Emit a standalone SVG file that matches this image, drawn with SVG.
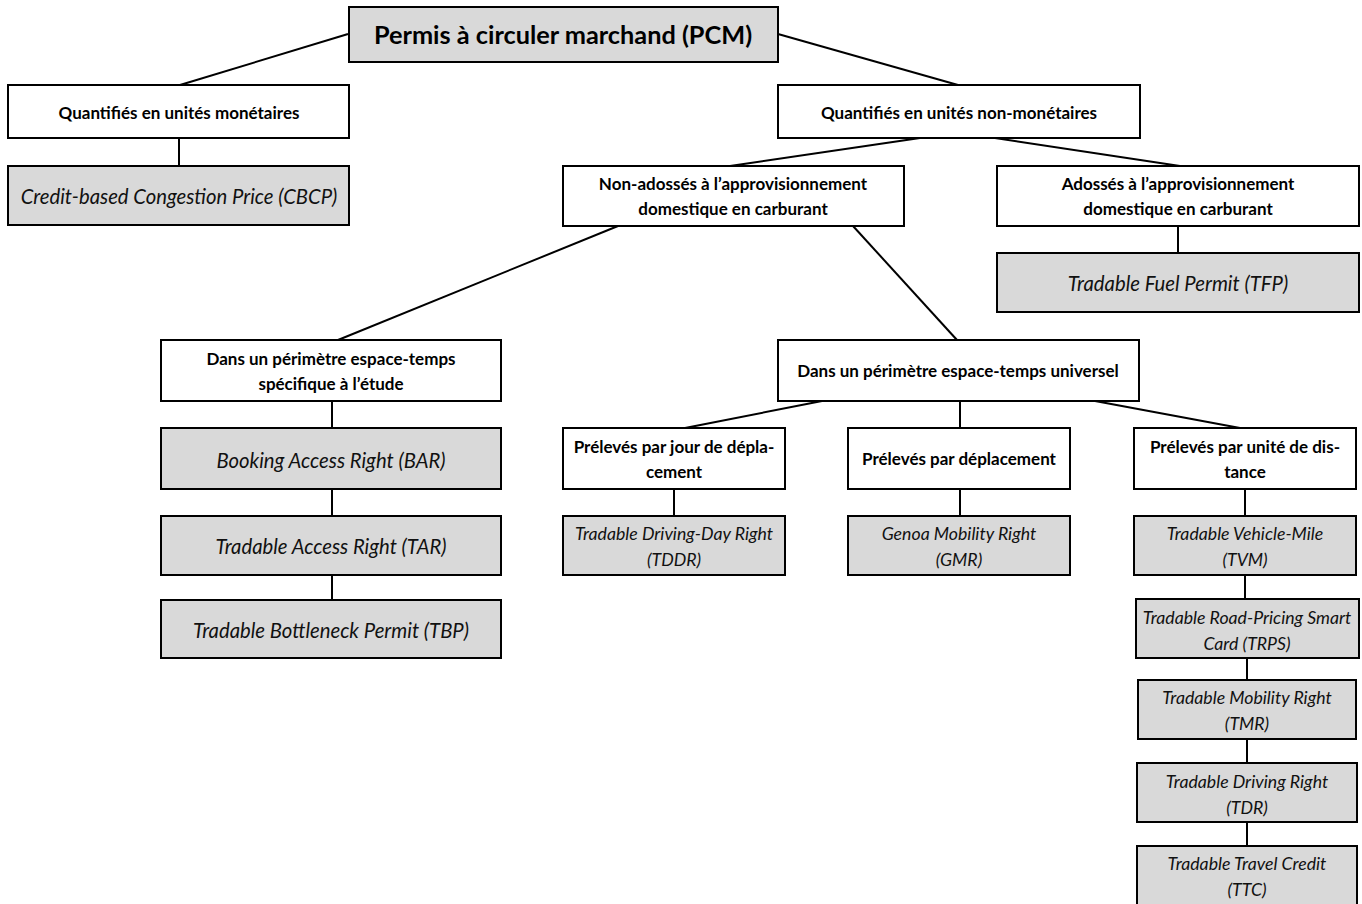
<svg xmlns="http://www.w3.org/2000/svg" width="1362" height="904" viewBox="0 0 1362 904">
<style>
.w{fill:#ffffff;stroke:#000;stroke-width:2}
.g{fill:#d9d9d9;stroke:#000;stroke-width:2}
.b{font-family:Lato,"Liberation Sans",sans-serif;font-weight:bold;font-size:17px;fill:#000;text-anchor:middle}
.i{font-family:Lato,"Liberation Sans",sans-serif;font-style:italic;font-size:17.7px;fill:#111;text-anchor:middle}
.il{font-family:Lato,"Liberation Sans",sans-serif;font-style:italic;font-size:20.3px;fill:#111;text-anchor:middle}
.c line{stroke:#000;stroke-width:2}
</style>
<rect width="1362" height="904" fill="#fff"/>
<g class="c" id="connectors">
<line x1="348" y1="34" x2="180" y2="85"/>
<line x1="778" y1="34" x2="958" y2="85"/>
<line x1="179" y1="138" x2="179" y2="166"/>
<line x1="920" y1="138" x2="730" y2="166"/>
<line x1="995" y1="138" x2="1180" y2="166"/>
<line x1="1178" y1="226" x2="1178" y2="253"/>
<line x1="618" y1="226" x2="338" y2="340"/>
<line x1="853" y1="226" x2="957" y2="340"/>
<line x1="332" y1="401" x2="332" y2="428"/>
<line x1="332" y1="489" x2="332" y2="516"/>
<line x1="332" y1="575" x2="332" y2="600"/>
<line x1="822" y1="401" x2="685" y2="428"/>
<line x1="960" y1="401" x2="960" y2="428"/>
<line x1="1095" y1="401" x2="1240" y2="428"/>
<line x1="674" y1="489" x2="674" y2="516"/>
<line x1="960" y1="489" x2="960" y2="516"/>
<line x1="1245" y1="489" x2="1245" y2="516"/>
<line x1="1245" y1="575" x2="1245" y2="599"/>
<line x1="1247" y1="658" x2="1247" y2="680"/>
<line x1="1247" y1="739" x2="1247" y2="763"/>
<line x1="1247" y1="822" x2="1247" y2="846"/>
</g>
<g id="pcm"><rect class="g" x="349" y="7" width="429" height="55"/><text x="563" y="44" class="b" style="font-size:25.3px">Permis à circuler marchand (PCM)</text></g>
<g id="qm"><rect class="w" x="8" y="85" width="341" height="53"/><text x="179" y="119" class="b">Quantifiés en unités monétaires</text></g>
<g id="cbcp"><rect class="g" x="8" y="166" width="341" height="59"/><text x="179" y="204" class="il">Credit-based Congestion Price (CBCP)</text></g>
<g id="qnm"><rect class="w" x="778" y="85" width="362" height="53"/><text x="959" y="119" class="b">Quantifiés en unités non-monétaires</text></g>
<g id="nonadosses"><rect class="w" x="563" y="166" width="341" height="60"/><text x="733" y="190" class="b">Non-adossés à l’approvisionnement</text><text x="733" y="215" class="b">domestique en carburant</text></g>
<g id="adosses"><rect class="w" x="997" y="166" width="362" height="60"/><text x="1178" y="190" class="b">Adossés à l’approvisionnement</text><text x="1178" y="215" class="b">domestique en carburant</text></g>
<g id="tfp"><rect class="g" x="997" y="253" width="362" height="59"/><text x="1178" y="291" class="il">Tradable Fuel Permit (TFP)</text></g>
<g id="specifique"><rect class="w" x="161" y="340" width="340" height="61"/><text x="331" y="365" class="b">Dans un périmètre espace-temps</text><text x="331" y="390" class="b">spécifique à l’étude</text></g>
<g id="universel"><rect class="w" x="778" y="340" width="361" height="61"/><text x="958" y="377" class="b">Dans un périmètre espace-temps universel</text></g>
<g id="bar"><rect class="g" x="161" y="428" width="340" height="61"/><text x="331" y="468" class="il">Booking Access Right (BAR)</text></g>
<g id="tar"><rect class="g" x="161" y="516" width="340" height="59"/><text x="331" y="554" class="il">Tradable Access Right (TAR)</text></g>
<g id="tbp"><rect class="g" x="161" y="600" width="340" height="58"/><text x="331" y="638" class="il">Tradable Bottleneck Permit (TBP)</text></g>
<g id="jour"><rect class="w" x="563" y="428" width="222" height="61"/><text x="674" y="453" class="b">Prélevés par jour de dépla-</text><text x="674" y="478" class="b">cement</text></g>
<g id="tddr"><rect class="g" x="563" y="516" width="222" height="59"/><text x="674" y="540" class="i">Tradable Driving-Day Right</text><text x="674" y="566" class="i">(TDDR)</text></g>
<g id="deplacement"><rect class="w" x="848" y="428" width="222" height="61"/><text x="959" y="465" class="b">Prélevés par déplacement</text></g>
<g id="gmr"><rect class="g" x="848" y="516" width="222" height="59"/><text x="959" y="540" class="i">Genoa Mobility Right</text><text x="959" y="566" class="i">(GMR)</text></g>
<g id="unite"><rect class="w" x="1134" y="428" width="222" height="61"/><text x="1245" y="453" class="b">Prélevés par unité de dis-</text><text x="1245" y="478" class="b">tance</text></g>
<g id="tvm"><rect class="g" x="1134" y="516" width="222" height="59"/><text x="1245" y="540" class="i">Tradable Vehicle-Mile</text><text x="1245" y="566" class="i">(TVM)</text></g>
<g id="trps"><rect class="g" x="1136" y="599" width="223" height="59"/><text x="1247" y="624" class="i">Tradable Road-Pricing Smart</text><text x="1247" y="650" class="i">Card (TRPS)</text></g>
<g id="tmr"><rect class="g" x="1138" y="680" width="218" height="59"/><text x="1247" y="704" class="i">Tradable Mobility Right</text><text x="1247" y="730" class="i">(TMR)</text></g>
<g id="tdr"><rect class="g" x="1137" y="763" width="220" height="59"/><text x="1247" y="788" class="i">Tradable Driving Right</text><text x="1247" y="814" class="i">(TDR)</text></g>
<g id="ttc"><rect class="g" x="1137" y="846" width="220" height="60"/><text x="1247" y="870" class="i">Tradable Travel Credit</text><text x="1247" y="896" class="i">(TTC)</text></g>
</svg>
